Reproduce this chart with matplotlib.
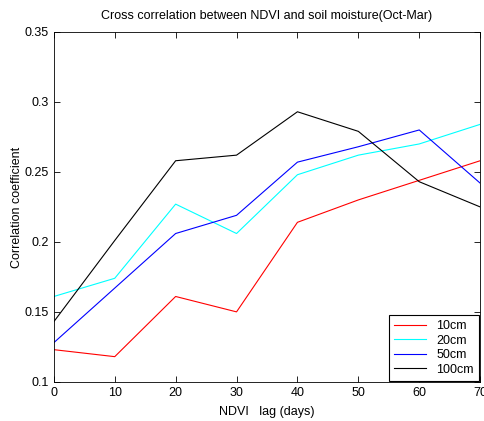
import matplotlib
matplotlib.use("Agg")
import matplotlib.pyplot as plt

# lag in days and correlation coefficients per soil depth
lag = [0, 10, 20, 30, 40, 50, 60, 70]
r_10cm = [0.123, 0.118, 0.161, 0.150, 0.214, 0.230, 0.244, 0.258]
r_20cm = [0.161, 0.174, 0.227, 0.206, 0.248, 0.262, 0.270, 0.284]
r_50cm = [0.128, 0.167, 0.206, 0.219, 0.257, 0.268, 0.280, 0.242]
r_100cm = [0.143, 0.201, 0.258, 0.262, 0.293, 0.279, 0.243, 0.225]
labels = ["10cm", "20cm", "50cm", "100cm"]
colors = ["#ff0000", "#00ffff", "#0000ff", "#000000"]

plt.rcParams["font.family"] = ["Liberation Sans", "DejaVu Sans"]
plt.rcParams["font.size"] = 9

fig = plt.figure(figsize=(4.85, 4.21), dpi=100)
ax = fig.add_axes([0.111, 0.093, 0.879, 0.831])

for r, lab, c in zip([r_10cm, r_20cm, r_50cm, r_100cm], labels, colors):
    ax.plot(lag, r, color=c, lw=0.8, label=lab)

ax.set_xlim(0, 70)
ax.set_ylim(0.1, 0.35)
ax.set_xticks(lag)
ax.set_yticks([0.1, 0.15, 0.2, 0.25, 0.3, 0.35])
ax.set_yticklabels(["0.1", "0.15", "0.2", "0.25", "0.3", "0.35"])
ax.tick_params(direction="in", top=True, right=True, length=4, width=0.6, labelsize=9)
for s in ax.spines.values():
    s.set_linewidth(0.6)

ax.set_title("Cross correlation between NDVI and soil moisture(Oct-Mar)", fontsize=9, pad=9)
ax.set_xlabel("NDVI   lag (days)", fontsize=9, labelpad=5)
ax.set_ylabel("Correlation coefficient", fontsize=9, labelpad=1)

leg = ax.legend(loc="lower right", fontsize=9, fancybox=False, edgecolor="black",
                framealpha=1, borderaxespad=0.1, handlelength=2.6, labelspacing=0.2)
leg.get_frame().set_linewidth(0.8)

fig.savefig("out.png", dpi=100)
